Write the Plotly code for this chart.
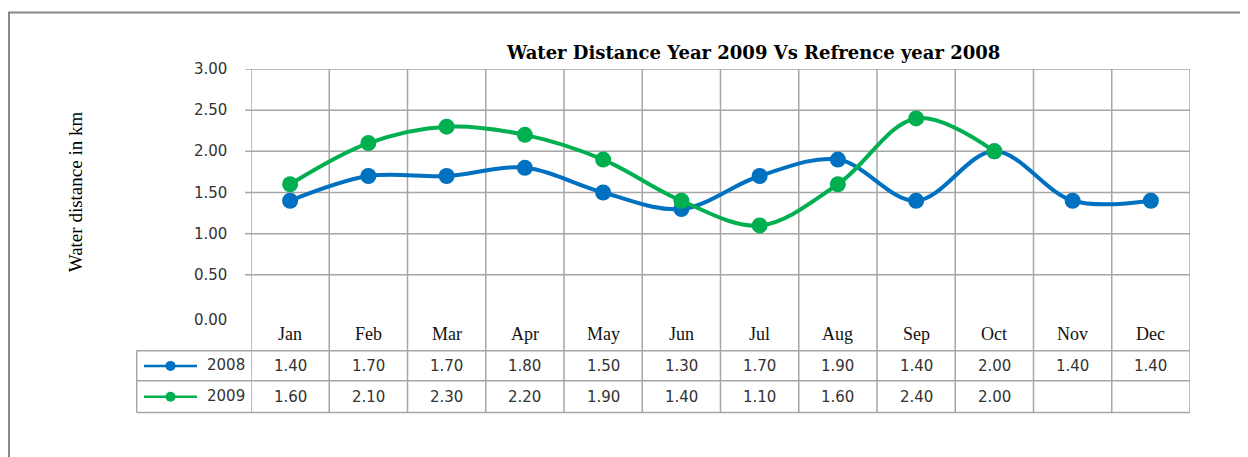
import plotly.graph_objects as go

months = ["Jan", "Feb", "Mar", "Apr", "May", "Jun", "Jul", "Aug", "Sep", "Oct", "Nov", "Dec"]
y2008 = [1.40, 1.70, 1.70, 1.80, 1.50, 1.30, 1.70, 1.90, 1.40, 2.00, 1.40, 1.40]
y2009 = [1.60, 2.10, 2.30, 2.20, 1.90, 1.40, 1.10, 1.60, 2.40, 2.00, None, None]
series_names = ["2008", "2009"]
series_colors = ["#0070C0", "#00B050"]
ytick_vals = [0, 0.5, 1.0, 1.5, 2.0, 2.5, 3.0]
title_text = "Water Distance Year 2009 Vs Refrence year 2008"
ytitle_text = "Water distance in km"

OFF = 8  # page body margin offset
W, H = 1248 - OFF, 457 - OFF
L, R, T, B = 251 - OFF, 1190 - OFF, 68.5 - OFF, 316 - OFF


def py(p):  # reference pixel y -> paper y
    return (B - (p - OFF)) / (B - T)


def px(p):  # reference pixel x -> paper x
    return ((p - OFF) - L) / (R - L)


GRID = "#A6A6A6"
x_idx = list(range(len(months)))
fig = go.Figure()
for vals, name, col in zip([y2008, y2009], series_names, series_colors):
    fig.add_trace(go.Scatter(
        x=x_idx, y=vals, name=name, mode="lines+markers",
        line=dict(color=col, width=4, shape="spline", smoothing=1.0),
        marker=dict(color=col, size=16),
        connectgaps=False, showlegend=False, cliponaxis=False,
    ))

shapes = []
# outer frame
shapes.append(dict(type="rect", xref="paper", yref="paper",
                   x0=px(9), x1=px(1400), y0=py(600), y1=py(12),
                   line=dict(color="#888888", width=2), layer="below"))
# horizontal gridlines (no line at zero)
for v in ytick_vals:
    if v == 0:
        continue
    shapes.append(dict(type="line", xref="paper", yref="y", x0=0, x1=1, y0=v, y1=v,
                       line=dict(color=GRID, width=1.5), layer="below"))
# vertical category boundaries extending through table
n = len(months)
for i in range(n + 1):
    shapes.append(dict(type="line", xref="x", yref="paper", x0=i - 0.5, x1=i - 0.5,
                       y0=1, y1=py(412.7), line=dict(color=GRID, width=1.5), layer="below"))
# y tick marks
for v in ytick_vals[1:]:
    shapes.append(dict(type="line", xref="paper", yref="y", x0=px(245), x1=0, y0=v, y1=v,
                       line=dict(color=GRID, width=1.5), layer="below"))
# table horizontal lines
for yy in [350.7, 381, 412.7]:
    shapes.append(dict(type="line", xref="paper", yref="paper", x0=px(136.7), x1=1,
                       y0=py(yy), y1=py(yy), line=dict(color=GRID, width=1.5), layer="below"))
shapes.append(dict(type="line", xref="paper", yref="paper", x0=px(136.7), x1=px(136.7),
                   y0=py(350.7), y1=py(412.7), line=dict(color=GRID, width=1.5), layer="below"))

annotations = []
# title
annotations.append(dict(text="<b>" + title_text + "</b>", xref="paper", yref="paper",
                        x=px(752.5), y=py(52), showarrow=False, xanchor="center", yanchor="middle",
                        font=dict(family="DejaVu Serif", size=18, color="#000000")))
# y-axis title
annotations.append(dict(text=ytitle_text, xref="paper", yref="paper", x=px(75), y=py(192),
                        showarrow=False, textangle=-90, xanchor="center", yanchor="middle",
                        font=dict(family="Liberation Serif", size=19, color="#000000")))
# y tick labels
for v in ytick_vals:
    annotations.append(dict(text=f"{v:.2f}", xref="paper", yref="y", x=px(229), y=v,
                            yshift=-4 if v == 0 else 0,
                            showarrow=False, xanchor="right", yanchor="middle",
                            font=dict(family="DejaVu Sans", size=15, color="#333333")))
# month labels
for i, m in enumerate(months):
    annotations.append(dict(text=m, xref="x", yref="paper", x=i, y=py(334),
                            showarrow=False, xanchor="center", yanchor="middle",
                            font=dict(family="Liberation Serif", size=18, color="#111111")))
# table rows
row_centers = [366, 397]
for vals, name, col, rc in zip([y2008, y2009], series_names, series_colors, row_centers):
    for i, v in enumerate(vals):
        if v is None:
            continue
        annotations.append(dict(text=f"{v:.2f}", xref="x", yref="paper", x=i, y=py(rc),
                                showarrow=False, xanchor="center", yanchor="middle",
                                font=dict(family="DejaVu Sans", size=15, color="#333333")))
    annotations.append(dict(text=name, xref="paper", yref="paper", x=px(247), y=py(rc - 1),
                            showarrow=False, xanchor="right", yanchor="middle",
                            font=dict(family="DejaVu Sans", size=15, color="#333333")))
    shapes.append(dict(type="line", xref="paper", yref="paper", x0=px(144), x1=px(197),
                       y0=py(rc), y1=py(rc), line=dict(color=col, width=2.5)))
    shapes.append(dict(type="circle", xref="paper", yref="paper", xsizemode="pixel",
                       ysizemode="pixel", xanchor=px(170.5), yanchor=py(rc),
                       x0=-5, x1=5, y0=-5, y1=5, fillcolor=col, line=dict(color=col, width=0)))

fig.update_layout(
    width=W, height=H,
    margin=dict(l=L, r=W - R, t=T, b=H - B, pad=0),
    paper_bgcolor="white", plot_bgcolor="white",
    xaxis=dict(range=[-0.5, n - 0.5], showgrid=False, zeroline=False, showticklabels=False,
               showline=False, fixedrange=True),
    yaxis=dict(range=[0, 3], showgrid=False, zeroline=False, showticklabels=False,
               showline=False, fixedrange=True),
    shapes=shapes, annotations=annotations, showlegend=False,
)
fig.write_html("out.html")
